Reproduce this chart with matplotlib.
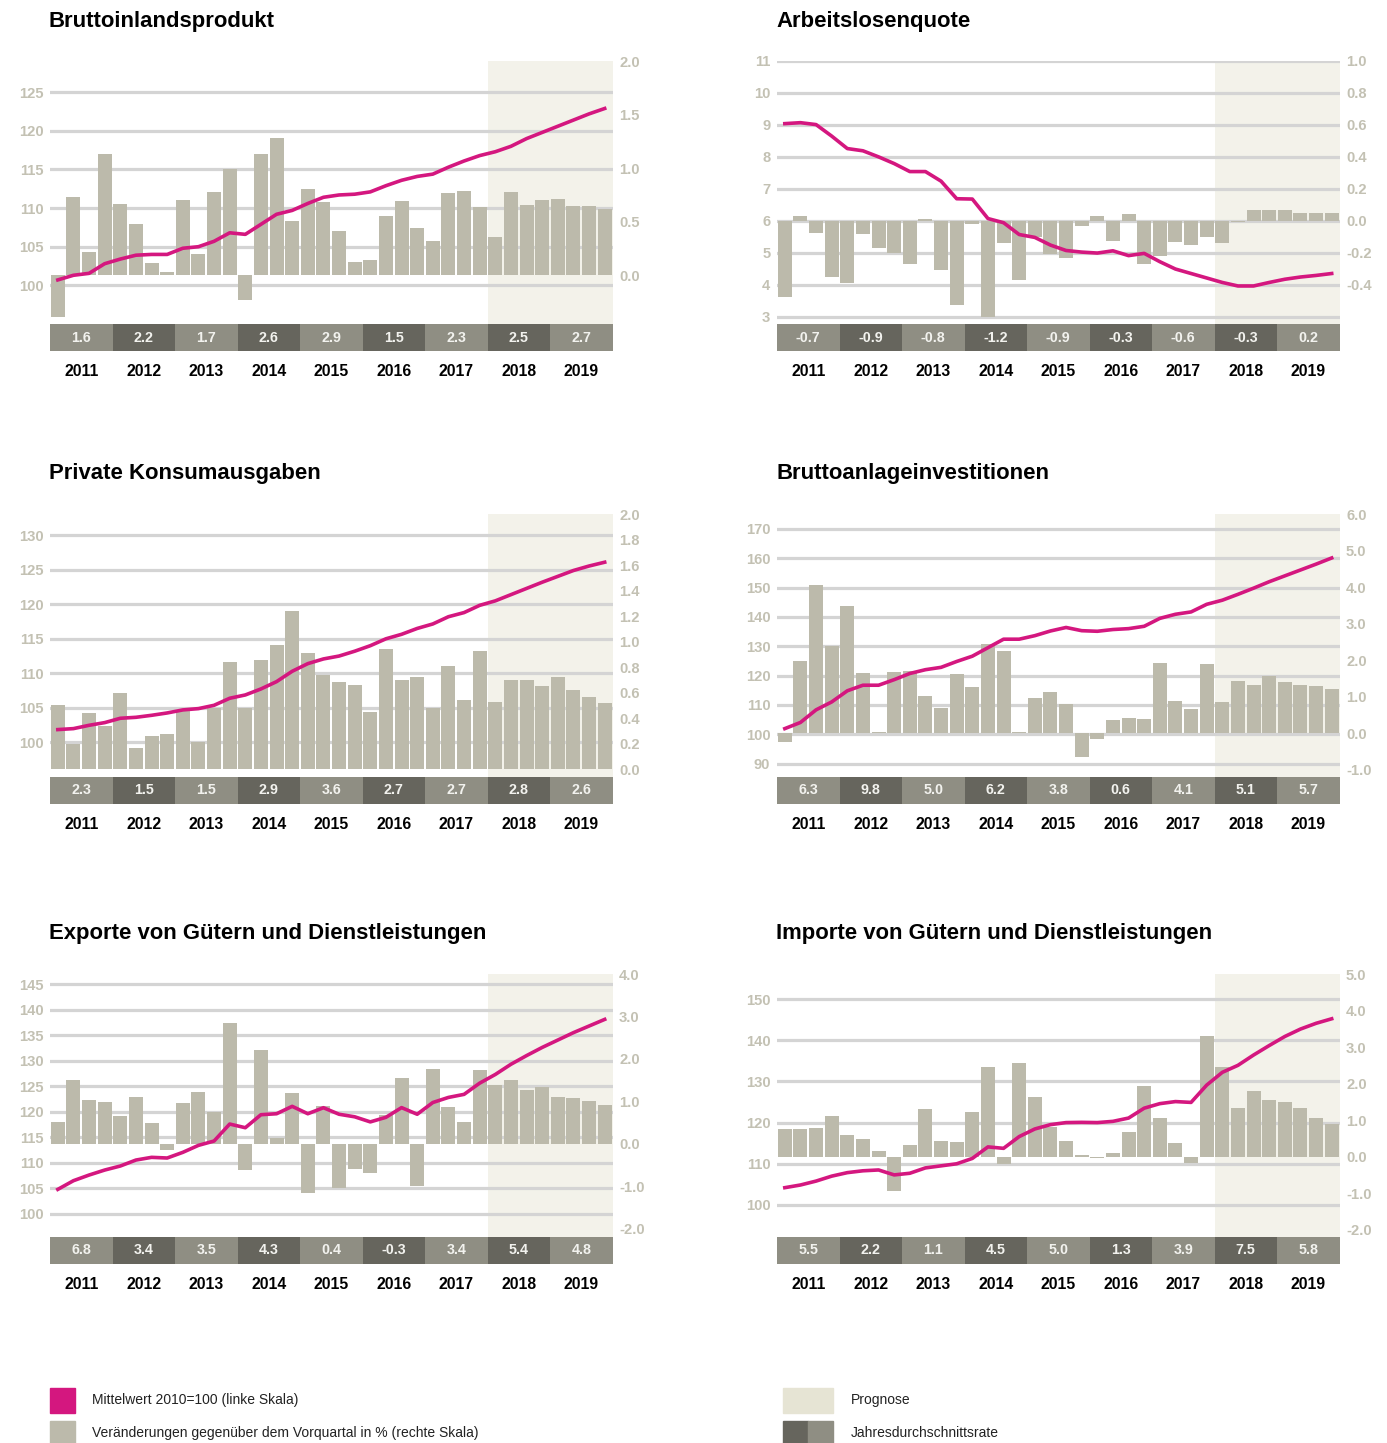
import numpy as np
import matplotlib.pyplot as plt
from matplotlib.patches import Rectangle

# quarters 2011Q1 .. 2019Q4
years = [2011, 2012, 2013, 2014, 2015, 2016, 2017, 2018, 2019]
quarters = np.arange(36)

# Bruttoinlandsprodukt
bip_index = [100.7, 101.3, 101.55, 102.8, 103.4, 103.9, 104.0, 104.0, 104.8, 105.0, 105.7, 106.8,
             106.6, 107.9, 109.2, 109.7, 110.6, 111.4, 111.7, 111.8, 112.1, 112.9, 113.6, 114.1,
             114.4, 115.3, 116.1, 116.8, 117.3, 118.0, 119.0, 119.8, 120.6, 121.4, 122.2, 122.9]
bip_change = [-0.39, 0.73, 0.22, 1.13, 0.67, 0.48, 0.11, 0.03, 0.70, 0.20, 0.78, 0.99,
              -0.23, 1.13, 1.28, 0.51, 0.81, 0.68, 0.41, 0.12, 0.14, 0.55, 0.69, 0.44,
              0.32, 0.77, 0.79, 0.64, 0.36, 0.78, 0.66, 0.70, 0.71, 0.65, 0.65, 0.62]
bip_annual = [1.6, 2.2, 1.7, 2.6, 2.9, 1.5, 2.3, 2.5, 2.7]

# Arbeitslosenquote
alq_index = [9.04, 9.07, 9.01, 8.65, 8.26, 8.19, 8.0, 7.79, 7.54, 7.54, 7.24, 6.69,
             6.68, 6.07, 5.94, 5.57, 5.48, 5.24, 5.07, 5.02, 4.99, 5.06, 4.91, 4.98,
             4.72, 4.49, 4.35, 4.21, 4.07, 3.96, 3.96, 4.07, 4.17, 4.24, 4.29, 4.35]
alq_change = [-0.48, 0.03, -0.075, -0.35, -0.39, -0.08, -0.17, -0.20, -0.27, 0.01, -0.31, -0.53,
              -0.02, -0.60, -0.14, -0.37, -0.10, -0.21, -0.23, -0.03, 0.03, -0.125, 0.04, -0.27,
              -0.22, -0.13, -0.15, -0.10, -0.14, -0.01, 0.07, 0.07, 0.07, 0.05, 0.05, 0.05]
alq_annual = [-0.7, -0.9, -0.8, -1.2, -0.9, -0.3, -0.6, -0.3, 0.2]

# Private Konsumausgaben
kons_index = [101.84, 101.98, 102.46, 102.85, 103.48, 103.62, 103.91, 104.25, 104.69, 104.88, 105.36, 106.38,
              106.86, 107.73, 108.79, 110.29, 111.4, 112.08, 112.5, 113.2, 114.0, 115.0, 115.65, 116.5,
              117.15, 118.2, 118.8, 119.85, 120.5, 121.4, 122.3, 123.2, 124.05, 124.9, 125.55, 126.1]
kons_change = [0.50, 0.20, 0.44, 0.34, 0.60, 0.17, 0.26, 0.28, 0.46, 0.21, 0.48, 0.84,
               0.48, 0.86, 0.97, 1.24, 0.91, 0.74, 0.68, 0.66, 0.45, 0.94, 0.70, 0.72,
               0.48, 0.81, 0.54, 0.93, 0.53, 0.70, 0.70, 0.65, 0.72, 0.62, 0.57, 0.52]
kons_annual = [2.3, 1.5, 1.5, 2.9, 3.6, 2.7, 2.7, 2.8, 2.6]

# Bruttoanlageinvestitionen
inv_index = [101.9, 104.0, 108.3, 111.0, 114.8, 116.7, 116.7, 118.6, 120.7, 122.0, 122.8, 124.8,
             126.6, 129.5, 132.4, 132.4, 133.6, 135.2, 136.4, 135.3, 135.1, 135.7, 136.0, 136.8,
             139.5, 140.9, 141.7, 144.3, 145.7, 147.7, 149.8, 152.0, 154.0, 156.0, 158.0, 160.1]
inv_change = [-0.23, 1.97, 4.05, 2.39, 3.47, 1.65, 0.04, 1.67, 1.70, 1.02, 0.69, 1.62,
              1.26, 2.44, 2.25, 0.04, 0.96, 1.13, 0.80, -0.66, -0.15, 0.36, 0.42, 0.39,
              1.92, 0.88, 0.66, 1.89, 0.85, 1.43, 1.32, 1.56, 1.40, 1.32, 1.29, 1.21]
inv_annual = [6.3, 9.8, 5.0, 6.2, 3.8, 0.6, 4.1, 5.1, 5.7]

# Exporte
exp_index = [104.77, 106.47, 107.58, 108.56, 109.35, 110.52, 111.05, 110.92, 112.03, 113.4, 114.25, 117.58,
             116.86, 119.41, 119.6, 121.05, 119.6, 120.78, 119.5, 119.0, 118.0, 118.9, 120.8, 119.5,
             121.8, 122.8, 123.4, 125.6, 127.3, 129.3, 131.0, 132.6, 134.05, 135.5, 136.8, 138.1]
exp_change = [0.51, 1.50, 1.03, 0.98, 0.66, 1.10, 0.49, -0.15, 0.96, 1.22, 0.75, 2.84,
              -0.62, 2.20, 0.14, 1.19, -1.15, 0.89, -1.04, -0.60, -0.68, 0.67, 1.55, -0.99,
              1.76, 0.86, 0.51, 1.73, 1.38, 1.50, 1.26, 1.33, 1.10, 1.07, 1.00, 0.91]
exp_annual = [6.8, 3.4, 3.5, 4.3, 0.4, -0.3, 3.4, 5.4, 4.8]

# Importe
imp_index = [104.2, 104.85, 105.8, 107.0, 107.85, 108.3, 108.5, 107.3, 107.7, 109.0, 109.5, 110.0,
             111.3, 114.1, 113.75, 116.6, 118.45, 119.5, 120.0, 120.06, 120.0, 120.3, 121.1, 123.5,
             124.6, 125.1, 124.9, 129.1, 132.2, 133.9, 136.4, 138.7, 140.9, 142.7, 144.1, 145.2]
imp_change = [0.77, 0.75, 0.80, 1.11, 0.59, 0.48, 0.15, -0.93, 0.32, 1.30, 0.43, 0.40,
              1.22, 2.45, -0.21, 2.58, 1.63, 0.81, 0.43, 0.05, -0.03, 0.10, 0.67, 1.95,
              1.05, 0.37, -0.17, 3.32, 2.47, 1.35, 1.79, 1.57, 1.49, 1.33, 1.05, 0.89]
imp_annual = [5.5, 2.2, 1.1, 4.5, 5.0, 1.3, 3.9, 7.5, 5.8]

W, H = 1387, 1443
MAGENTA = '#d4177f'
BAR = '#bcbaab'
GRID = '#d4d4d4'
TICK = '#c3c1b3'
SHADE = '#f3f2ea'
STRIP = ['#8f8e83', '#66655d']

plt.rcParams['font.family'] = ['Liberation Sans', 'DejaVu Sans']

fig = plt.figure(figsize=(W / 100, H / 100), dpi=100)


def px_box(x0, y0, x1, y1):
    return [x0 / W, 1 - y1 / H, (x1 - x0) / W, (y1 - y0) / H]


def draw_panel(x0, top, bottom, title_y, title, index, change, annual,
               left_lim, left_ticks, right_lim, right_ticks):
    x1 = x0 + 562.5
    ax = fig.add_axes(px_box(x0, top, x1, bottom))
    ax.set_xlim(-0.5, 35.5)
    ax.set_ylim(*left_lim)
    ax.axvspan(27.5, 35.5, color=SHADE, lw=0, zorder=0)
    for t in left_ticks:
        ax.axhline(t, color=GRID, lw=2.3, zorder=1)
    ax.set_yticks(left_ticks)
    ax.set_yticklabels([f'{t:g}' for t in left_ticks])
    ax.tick_params(axis='y', length=0, pad=4.8, labelcolor=TICK, labelsize=10.6)
    ax.set_xticks([])
    for s in ax.spines.values():
        s.set_visible(False)

    # bars on the right scale
    axb = ax.twinx()
    axb.bar(quarters, change, width=0.9, color=BAR, zorder=2)
    axb.set_ylim(*right_lim)
    axb.set_yticks(right_ticks)
    axb.set_yticklabels([f'{t:.1f}' for t in right_ticks])
    axb.tick_params(axis='y', length=0, pad=4.7, labelcolor=TICK, labelsize=10.6)
    for s in axb.spines.values():
        s.set_visible(False)

    # index line on the left scale
    axl = ax.twinx()
    axl.set_ylim(*left_lim)
    axl.plot(quarters, index, color=MAGENTA, lw=2.6, solid_joinstyle='round')
    axl.set_yticks([])
    for s in axl.spines.values():
        s.set_visible(False)
    for lab in ax.get_yticklabels() + axb.get_yticklabels():
        lab.set_fontweight('bold')

    # yearly averages strip
    sx = fig.add_axes(px_box(x0, bottom, x1, bottom + 27))
    sx.bar(range(9), [1] * 9, width=1.0, color=[STRIP[i % 2] for i in range(9)])
    for i, v in enumerate(annual):
        sx.text(i, 0.5, f'{v:.1f}', ha='center', va='center', color='#f2f2ee',
                fontsize=10.3, fontweight='bold')
    sx.set_xlim(-0.5, 8.5)
    sx.set_ylim(0, 1)
    sx.set_yticks([])
    sx.set_xticks(range(9))
    sx.set_xticklabels([str(y) for y in years], fontsize=11.3, fontweight='bold')
    sx.tick_params(axis='x', length=0, pad=9.6)
    for s in sx.spines.values():
        s.set_visible(False)

    fig.text((x0 - 1) / W, 1 - (title_y + 1.5) / H, title, ha='left', va='center',
             fontsize=15.9, fontweight='bold')


draw_panel(50, 61, 324, 20, 'Bruttoinlandsprodukt', bip_index, bip_change, bip_annual,
           (94.99, 129.05), list(range(100, 126, 5)), (-0.459, 2.006), np.arange(0, 2.01, 0.5))
draw_panel(777, 61, 324, 20, 'Arbeitslosenquote', alq_index, alq_change, alq_annual,
           (2.77, 11.0), list(range(3, 12)), (-0.646, 0.998), np.arange(-0.4, 1.01, 0.2))
draw_panel(50, 514, 776.7, 472, 'Private Konsumausgaben', kons_index, kons_change, kons_annual,
           (95.01, 133.09), list(range(100, 131, 5)), (-0.058, 2.0), np.arange(0, 2.01, 0.2))
draw_panel(777, 514, 776.7, 472, 'Bruttoanlageinvestitionen', inv_index, inv_change, inv_annual,
           (85.5, 175.1), list(range(90, 171, 10)), (-1.186, 5.99), np.arange(-1, 6.01, 1.0))
draw_panel(50, 974, 1236.7, 932, 'Exporte von Gütern und Dienstleistungen', exp_index, exp_change, exp_annual,
           (95.49, 147.0), list(range(100, 146, 5)), (-2.186, 3.99), np.arange(-2, 4.01, 1.0))
draw_panel(777, 974, 1236.7, 932, 'Importe von Gütern und Dienstleistungen', imp_index, imp_change, imp_annual,
           (92.3, 156.07), list(range(100, 151, 10)), (-2.19, 5.01), np.arange(-2, 5.01, 1.0))

# legend
leg = fig.add_axes([0, 0, 1, 1])
leg.set_xlim(0, W)
leg.set_ylim(H, 0)
leg.axis('off')
leg.add_patch(Rectangle((50, 1388), 25, 25, color=MAGENTA))
leg.add_patch(Rectangle((50, 1421), 25, 23, color=BAR))
leg.add_patch(Rectangle((783, 1388), 50, 25, color='#e6e4d4'))
leg.add_patch(Rectangle((783, 1421), 25, 23, color=STRIP[1]))
leg.add_patch(Rectangle((808, 1421), 25, 23, color=STRIP[0]))
legend_font = ['Liberation Sans Narrow', 'Liberation Sans', 'DejaVu Sans']
leg.text(92, 1400, 'Mittelwert 2010=100 (linke Skala)', va='center', fontsize=10, family=legend_font,
         color='#222222')
leg.text(92, 1433, 'Veränderungen gegenüber dem Vorquartal in % (rechte Skala)', va='center',
         fontsize=10, family=legend_font, color='#222222')
leg.text(851, 1400, 'Prognose', va='center', fontsize=10, family=legend_font, color='#222222')
leg.text(851, 1433, 'Jahresdurchschnittsrate', va='center', fontsize=10, family=legend_font,
         color='#222222')

fig.savefig('out.png', dpi=100)
